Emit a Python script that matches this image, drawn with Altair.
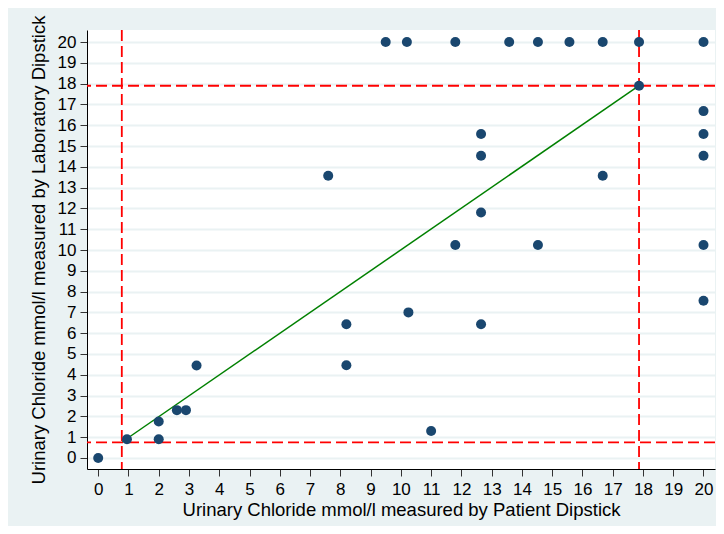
import altair as alt
import pandas as pd

# Scatter data: Patient dipstick (x) vs Laboratory dipstick (y), mmol/l
patient = [0, 0.95, 2.0, 2.0, 2.6, 2.9, 3.25, 7.6, 8.2, 8.2,
           9.5, 10.2, 10.25, 11.0, 11.8, 11.8, 12.65, 12.65, 12.65, 12.65,
           13.58, 14.53, 14.53, 15.57, 16.67, 16.67, 17.87, 17.87,
           20, 20, 20, 20, 20, 20]
laboratory = [0, 0.9, 0.9, 1.75, 2.3, 2.3, 4.45, 13.57, 6.43, 4.46,
              20, 20, 7.0, 1.3, 20, 10.24, 15.58, 14.53, 11.8, 6.43,
              20, 20, 10.24, 20, 20, 13.57, 20, 17.9,
              20, 16.68, 15.58, 14.53, 10.24, 7.56]

# Reference lines
vlines = [0.78, 17.87]
hlines = [0.75, 17.9]
diag_x = [0.8, 17.87]
diag_y = [0.78, 17.9]

ticks = list(range(0, 21))

pts = pd.DataFrame({"patient": patient, "lab": laboratory})
vdf = pd.DataFrame({"v": vlines})
hdf = pd.DataFrame({"h": hlines})
ddf = pd.DataFrame({"patient": diag_x, "lab": diag_y})

FONT = "Liberation Sans"
xscale = alt.Scale(domain=[-0.37, 20.38], nice=False, zero=False)
yscale = alt.Scale(domain=[-0.53, 20.58], nice=False, zero=False)

XT = "Urinary Chloride mmol/l measured by Patient Dipstick"
YT = "Urinary Chloride mmol/l measured by Laboratory Dipstick"

xaxis = alt.Axis(values=ticks, grid=False, tickSize=7, tickColor="#333333",
                 domainColor="black", labelFontSize=17, labelFont=FONT,
                 labelColor="black", labelPadding=5, labelFlush=False,
                 labelOverlap=False, title=XT,
                 titleFont=FONT, titleFontSize=18.5, titleFontWeight="normal",
                 titleColor="black", titlePadding=3)
yaxis = alt.Axis(values=ticks, grid=True, gridColor="#EAF2F3", gridWidth=2,
                 tickSize=7, tickColor="#333333", domainColor="black",
                 labelFontSize=17, labelFont=FONT, labelColor="black",
                 labelPadding=4, labelFlush=False, labelOverlap=False,
                 title=YT,
                 titleFont=FONT, titleFontSize=18.5, titleFontWeight="normal",
                 titleColor="black", titlePadding=9)

base_pts = alt.Chart(pts).mark_circle(size=100, color="#1a476f", opacity=1).encode(
    x=alt.X("patient:Q", scale=xscale, axis=xaxis),
    y=alt.Y("lab:Q", scale=yscale, axis=yaxis),
)

vrules = alt.Chart(vdf).mark_rule(color="#FF0000", strokeWidth=1.8, strokeDash=[11, 5]).encode(
    x=alt.X("v:Q", scale=xscale, axis=xaxis)
)
hrules = alt.Chart(hdf).mark_rule(color="#FF0000", strokeWidth=1.8, strokeDash=[11, 5]).encode(
    y=alt.Y("h:Q", scale=yscale, axis=yaxis)
)
diag = alt.Chart(ddf).mark_line(color="#008000", strokeWidth=1.5).encode(
    x=alt.X("patient:Q", scale=xscale, axis=xaxis),
    y=alt.Y("lab:Q", scale=yscale, axis=yaxis),
)

chart = alt.layer(vrules, hrules, diag, base_pts).properties(
    width=628, height=439,
    background="#EAF2F3",
    padding={"left": 79, "top": 22, "right": 1, "bottom": 57},
    autosize=alt.AutoSizeParams(type="none"),
).configure_view(fill="white", stroke=None)

chart.save("out.html", embed_options={"renderer": "svg", "actions": False})
